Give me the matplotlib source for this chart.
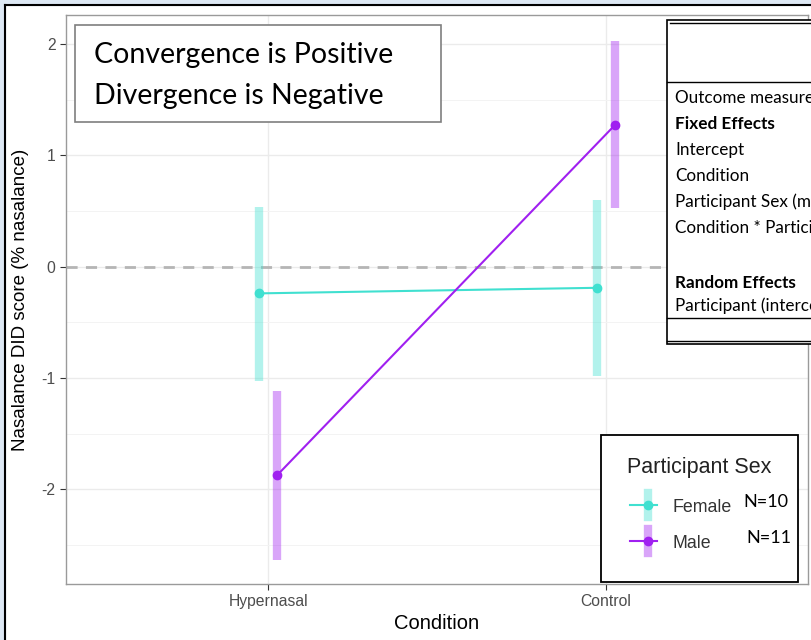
import matplotlib.pyplot as plt
from matplotlib.patches import Rectangle
from matplotlib.lines import Line2D

plt.rcParams["font.family"] = ["Liberation Sans", "DejaVu Sans"]
plt.rcParams["axes.unicode_minus"] = False

# data
conditions = ["Hypernasal", "Control"]
female_mean = [-0.24, -0.19]
female_lo = [-1.03, -0.98]
female_hi = [0.54, 0.60]
male_mean = [-1.87, 1.27]
male_lo = [-2.63, 0.53]
male_hi = [-1.12, 2.03]
n_female = 10
n_male = 11

table_rows = ["Outcome measure", "Fixed Effects", "Intercept", "Condition",
              "Participant Sex (male)", "Condition * Participant Sex",
              "", "Random Effects", "Participant (intercept)"]
bold_rows = ["Fixed Effects", "Random Effects"]

TURQ = "#40E0D0"
PURP = "#A020F0"
W, H = 811, 640


def fx(x):
    return x / W


def fy(y):
    return 1 - y / H


fig = plt.figure(figsize=(8.11, 6.4), dpi=100)
fig.patch.set_facecolor("white")

# screenshot frame
fig.add_artist(Rectangle((0, 0), fx(4.5), 1, transform=fig.transFigure, color="#dde8f4", zorder=0))
fig.add_artist(Rectangle((0, fy(4.5)), 1, 1, transform=fig.transFigure, color="#dde8f4", zorder=0))
fig.add_artist(Line2D([fx(5), fx(5)], [0, fy(5)], transform=fig.transFigure, color="black", lw=1.5))
fig.add_artist(Line2D([fx(5), 1], [fy(5), fy(5)], transform=fig.transFigure, color="black", lw=1.5))

ax = fig.add_axes([fx(66), fy(584), fx(808 - 66), (584 - 15) / H])
x = [1, 2]
d = 0.027
xf = [v - d for v in x]
xm = [v + d for v in x]

ax.vlines(xf, female_lo, female_hi, color=TURQ, alpha=0.4, lw=6, zorder=3)
ax.vlines(xm, male_lo, male_hi, color=PURP, alpha=0.4, lw=6, zorder=3)
ax.plot(xf, female_mean, color=TURQ, lw=1.5, marker="o", ms=6, zorder=4)
ax.plot(xm, male_mean, color=PURP, lw=1.5, marker="o", ms=6, zorder=4)
ax.axhline(0, color="#b5b5b5", lw=2, ls=(0, (4, 3)), zorder=2)

ax.set_xlim(0.4, 2.6)
ax.set_ylim(-2.85, 2.26)
ax.set_xticks(x)
ax.set_xticklabels(conditions)
ax.set_yticks([-2, -1, 0, 1, 2])
ax.set_yticks([-2.5, -1.5, -0.5, 0.5, 1.5], minor=True)
ax.tick_params(which="minor", length=0)
ax.tick_params(which="major", length=4, color="#333333", labelcolor="#4d4d4d", labelsize=11.3)
ax.grid(which="major", color="#ebebeb", lw=1)
ax.grid(which="minor", axis="y", color="#f3f3f3", lw=0.7)
ax.set_axisbelow(True)
for s in ax.spines.values():
    s.set_color("#9a9a9a")
    s.set_linewidth(1)
ax.set_xlabel("Condition", fontsize=14.5, labelpad=3)
ax.set_ylabel("Nasalance DID score (% nasalance)", fontsize=13.5, labelpad=9)

# annotation box
fig.add_artist(Rectangle((fx(75), fy(122)), fx(441 - 75), (122 - 25) / H, transform=fig.transFigure,
                         facecolor="white", edgecolor="#7f7f7f", lw=1.2, zorder=10))
fig.text(fx(94), fy(55), "Convergence is Positive", fontsize=20.5, family="Lato", va="center", zorder=11)
fig.text(fx(94), fy(96), "Divergence is Negative", fontsize=20.5, family="Lato", va="center", zorder=11)

# model table, cut off by the screenshot edge
fig.add_artist(Rectangle((fx(667), fy(344)), 1, (344 - 20) / H, transform=fig.transFigure,
                         facecolor="white", edgecolor="black", lw=1.2, zorder=10))
fig.add_artist(Line2D([fx(670), 1], [fy(23), fy(23)], transform=fig.transFigure, color="black", lw=1, zorder=11))
fig.add_artist(Line2D([fx(667), 1], [fy(82), fy(82)], transform=fig.transFigure, color="black", lw=1, zorder=11))
fig.add_artist(Line2D([fx(667), 1], [fy(318), fy(318)], transform=fig.transFigure, color="black", lw=1, zorder=11))
fig.add_artist(Line2D([fx(667), 1], [fy(341), fy(341)], transform=fig.transFigure, color="black", lw=1, zorder=11))
row_y = [98, 124, 150, 176, 202, 228, 255, 283, 306]
for label, yy in zip(table_rows, row_y):
    fig.text(fx(675), fy(yy), label, fontsize=12.3, family="Lato", va="center", zorder=12,
             fontweight="bold" if label in bold_rows else "normal")

# legend box
fig.add_artist(Rectangle((fx(601), fy(582)), fx(798 - 601), (582 - 435) / H, transform=fig.transFigure,
                         facecolor="white", edgecolor="black", lw=1.3, zorder=10))
fig.text(fx(627), fy(468), "Participant Sex", fontsize=15.5, color="#222222", va="center", zorder=11)
for yy, col, lab, n, nx in [(505, TURQ, "Female", n_female, 743), (541, PURP, "Male", n_male, 746)]:
    fig.add_artist(Line2D([fx(648), fx(648)], [fy(yy - 12), fy(yy + 12)], transform=fig.transFigure,
                          color=col, alpha=0.4, lw=6, zorder=11))
    fig.add_artist(Line2D([fx(630), fx(657)], [fy(yy), fy(yy)], transform=fig.transFigure,
                          color=col, lw=1.5, zorder=12))
    fig.add_artist(Line2D([fx(648)], [fy(yy)], transform=fig.transFigure, color=col, marker="o", ms=6, zorder=12))
    fig.text(fx(672), fy(yy + 2), lab, fontsize=12.8, color="#333333", va="center", zorder=11)
    fig.text(fx(nx), fy(yy - 3), "N=%d" % n, fontsize=13, family="Lato", va="center", zorder=11)

fig.savefig("out.png", dpi=100)
